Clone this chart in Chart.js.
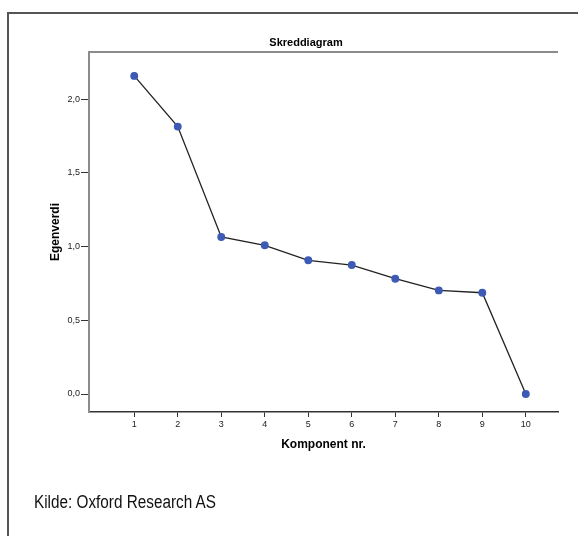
<!DOCTYPE html>
<html>
<head>
<meta charset="utf-8">
<script src="https://cdn.jsdelivr.net/npm/chart.js@4"></script>
<style>
  html, body { margin: 0; padding: 0; background: #fff; }
  #wrap { position: relative; width: 578px; height: 536px; overflow: hidden; }
  #frame { position: absolute; left: 7px; top: 12px; width: 700px; height: 700px;
           border-left: 2px solid #555; border-top: 2px solid #555; }
  #chart { position: absolute; left: 0; top: 0; }
  #title { position: absolute; left: 206px; width: 200px; top: 36px; text-align: center;
           font: bold 11px "Liberation Sans", Arial, sans-serif; color: #000; }
  #source { position: absolute; left: 34px; top: 492px; white-space: nowrap;
            transform: scaleX(0.85); transform-origin: left top;
            font: 18px "Liberation Sans Narrow", "Arial Narrow", "Liberation Sans", sans-serif; color: #111; }
</style>
</head>
<body>
<div id="wrap">
  <div id="frame"></div>
  <canvas id="chart" width="578" height="536"></canvas>
  <div id="title">Skreddiagram</div>
  <div id="source">Kilde: Oxford Research AS</div>
</div>
<script>
const components = [1, 2, 3, 4, 5, 6, 7, 8, 9, 10];
const eigenvalues = [2.158, 1.814, 1.065, 1.009, 0.907, 0.875, 0.782, 0.703, 0.687, 0.0];
const yTicks = [0, 0.5, 1.0, 1.5, 2.0];
const xTicks = components;

// top frame line of the plot area
const topLine = {
  id: 'topLine',
  afterDraw(chart) {
    const { ctx, chartArea } = chart;
    ctx.save();
    ctx.strokeStyle = '#8c8c8c';
    ctx.lineWidth = 2;
    ctx.beginPath();
    ctx.moveTo(chartArea.left - 1, chartArea.top);
    ctx.lineTo(chartArea.right, chartArea.top);
    ctx.stroke();
    ctx.restore();
  }
};

const ctx = document.getElementById('chart').getContext('2d');
new Chart(ctx, {
  type: 'line',
  data: {
    datasets: [{
      data: components.map((c, i) => ({ x: c, y: eigenvalues[i] })),
      borderColor: '#222',
      borderWidth: 1.3,
      pointBackgroundColor: '#3d5bb5',
      pointBorderColor: '#3d5bb5',
      pointRadius: 3.3,
      tension: 0
    }]
  },
  options: {
    responsive: false,
    animation: false,
    layout: { padding: { top: 52, left: 0, right: 20, bottom: 76 } },
    plugins: { legend: { display: false }, tooltip: { enabled: false } },
    scales: {
      x: {
        type: 'linear',
        min: -0.04,
        max: 10.74,
        afterBuildTicks: s => { s.ticks = xTicks.map(v => ({ value: v })); },
        afterFit: s => { s.height = 48; },
        border: { color: '#333', width: 1.5 },
        grid: { drawOnChartArea: false, drawTicks: true, tickLength: 5, tickColor: '#333' },
        ticks: {
          padding: 2,
          color: '#222',
          font: { family: 'Liberation Sans', size: 9 },
          maxRotation: 0
        },
        title: {
          display: true,
          text: 'Komponent nr.',
          color: '#000',
          font: { family: 'Liberation Sans', size: 12, weight: 'bold' },
          padding: { top: 0, bottom: 8 }
        }
      },
      y: {
        min: -0.122,
        max: 2.32,
        afterBuildTicks: s => { s.ticks = yTicks.map(v => ({ value: v })); },
        afterFit: s => { s.width = 89; },
        border: { color: '#8c8c8c', width: 2 },
        grid: { drawOnChartArea: false, drawTicks: true, tickLength: 8, tickColor: '#333' },
        ticks: {
          padding: 1,
          color: '#222',
          font: { family: 'Liberation Sans', size: 9 },
          callback: v => v.toFixed(1).replace('.', ',')
        },
        title: {
          display: true,
          text: 'Egenverdi',
          color: '#000',
          font: { family: 'Liberation Sans', size: 12, weight: 'bold' },
          padding: { top: 48, bottom: 0 }
        }
      }
    }
  },
  plugins: [topLine]
});
</script>
</body>
</html>
